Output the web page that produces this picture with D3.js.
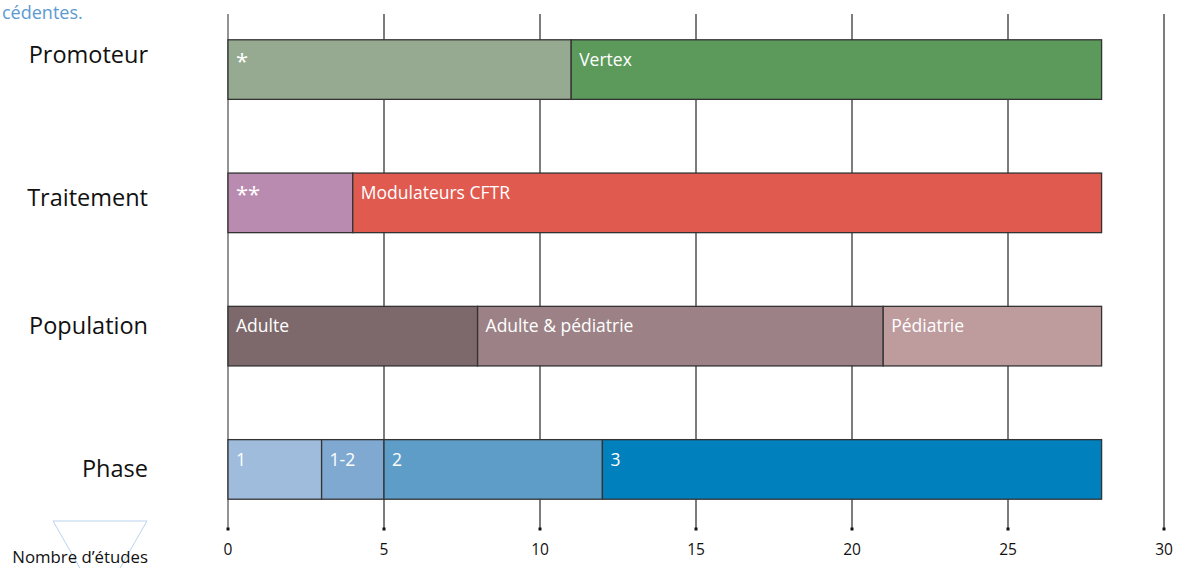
<!DOCTYPE html>
<html>
<head>
<meta charset="utf-8">
<script src="https://cdn.jsdelivr.net/npm/d3@7"></script>
<style>
  body { margin: 0; background: #fff; }
  svg { display: block; font-family: "Open Sans", "Noto Sans", sans-serif; }
</style>
</head>
<body>
<svg id="chart" width="1192" height="568"></svg>
<script>
// categories, top to bottom
const categories = ["Promoteur", "Traitement", "Population", "Phase"];

// segments per category: label and number of studies
const promoteurLabels = ["*", "Vertex"];
const promoteurValues = [11, 17];
const traitementLabels = ["**", "Modulateurs CFTR"];
const traitementValues = [4, 24];
const populationLabels = ["Adulte", "Adulte & pédiatrie", "Pédiatrie"];
const populationValues = [8, 13, 7];
const phaseLabels = ["1", "1-2", "2", "3"];
const phaseValues = [3, 2, 7, 16];

const tickValues = [0, 5, 10, 15, 20, 25, 30];

const colors = {
    Promoteur: ["#95aa90", "#5b9a5b"],
    Traitement: ["#ba8bb0", "#e05a50"],
    Population: ["#7d696b", "#9c8286", "#be9c9e"],
    Phase: ["#a0bcdc", "#80a9d2", "#5f9dc9", "#0080bc"]
};

// the category names do not sit exactly at the bar middles
const labelShift = { Promoteur: -7, Traitement: 3, Population: -2, Phase: 8 };

const groups = [
    { name: "Promoteur", labels: promoteurLabels, values: promoteurValues },
    { name: "Traitement", labels: traitementLabels, values: traitementValues },
    { name: "Population", labels: populationLabels, values: populationValues },
    { name: "Phase", labels: phaseLabels, values: phaseValues }
];

// build stacked segments
const segments = [];
groups.forEach(g => {
    let start = 0;
    g.values.forEach((v, i) => {
        segments.push({ cat: g.name, label: g.labels[i], x0: start, x1: start + v, color: colors[g.name][i] });
        start += v;
    });
});

const svg = d3.select("#chart");

const x = d3.scaleLinear().domain([0, 30]).range([228, 1164]);
const y = d3.scaleBand().domain(categories).range([3, 536]).paddingInner(0.553).paddingOuter(0.276);

// vertical grid lines
svg.append("g")
    .selectAll("line")
    .data(tickValues)
    .join("line")
    .attr("x1", d => x(d)).attr("x2", d => x(d))
    .attr("y1", 14).attr("y2", 529)
    .attr("stroke", d => d === 0 ? "#6f6f6f" : "#111")
    .attr("stroke-width", d => d === 0 ? 1.5 : 1.1);

// small squares at the tick ends
svg.append("g")
    .selectAll("rect")
    .data(tickValues)
    .join("rect")
    .attr("x", d => x(d) - 1.5).attr("y", 527.5)
    .attr("width", 3).attr("height", 3)
    .attr("fill", "#111");

// tick labels
svg.append("g")
    .selectAll("text")
    .data(tickValues)
    .join("text")
    .attr("x", d => x(d)).attr("y", 555)
    .attr("text-anchor", "middle")
    .attr("font-size", 15.5)
    .attr("fill", "#111")
    .text(d => d);

// bars
svg.append("g")
    .selectAll("rect")
    .data(segments)
    .join("rect")
    .attr("x", d => x(d.x0)).attr("y", d => y(d.cat))
    .attr("width", d => x(d.x1) - x(d.x0))
    .attr("height", y.bandwidth())
    .attr("fill", d => d.color)
    .attr("stroke", "#333")
    .attr("stroke-width", 1.3);

// segment labels
svg.append("g")
    .selectAll("text")
    .data(segments)
    .join("text")
    .attr("x", d => x(d.x0) + 8)
    .attr("y", d => y(d.cat) + (d.label.startsWith("*") ? 29 : 26))
    .attr("font-size", d => d.label.startsWith("*") ? 22 : 17.5)
    .attr("fill", "#fff")
    .text(d => d.label);

// category labels
svg.append("g")
    .selectAll("text")
    .data(categories)
    .join("text")
    .attr("x", 148)
    .attr("y", d => y(d) + y.bandwidth() / 2 + labelShift[d])
    .attr("text-anchor", "end")
    .attr("font-size", 23.5)
    .attr("fill", "#111")
    .text(d => d);

// leftover caption text at the top edge
svg.append("text")
    .attr("x", 2).attr("y", 19)
    .attr("font-size", 18)
    .attr("fill", "#5b9bd1")
    .text("cédentes.");

// light triangle behind the axis title
svg.append("path")
    .attr("d", "M53,521 L147,521 L100,603 Z")
    .attr("fill", "none")
    .attr("stroke", "#b9d3ec")
    .attr("stroke-width", 1);

svg.append("text")
    .attr("x", 148).attr("y", 563)
    .attr("text-anchor", "end")
    .attr("font-size", 16.8)
    .attr("fill", "#111")
    .text("Nombre d’études");
</script>
</body>
</html>
